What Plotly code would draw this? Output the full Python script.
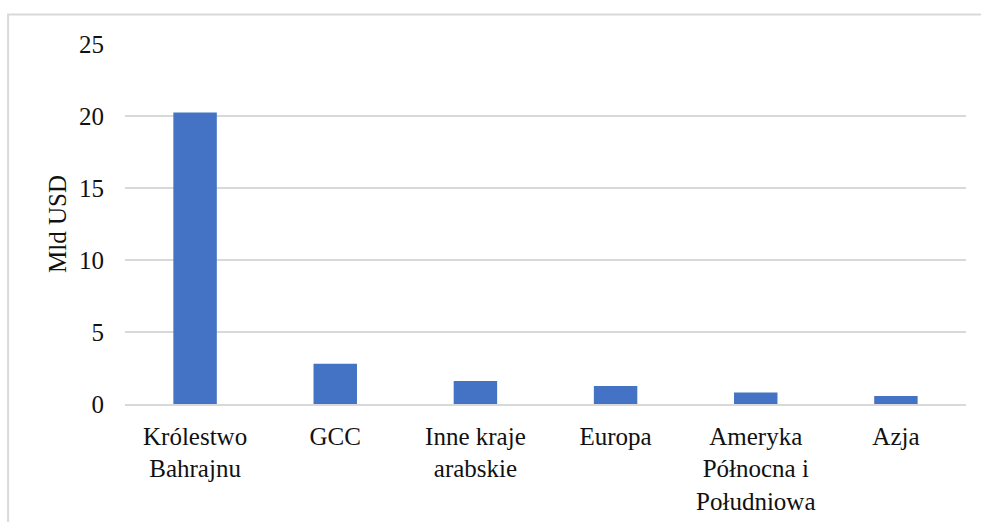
import plotly.graph_objects as go

categories = [
    "Królestwo<br>Bahrajnu",
    "GCC",
    "Inne kraje<br>arabskie",
    "Europa",
    "Ameryka<br>Północna i<br>Południowa",
    "Azja",
]
values = [20.25, 2.8, 1.6, 1.25, 0.8, 0.55]
y_ticks = [0, 5, 10, 15, 20, 25]

FONT = "Liberation Serif"
GRID = "#d9d9d9"
SIZE = 25

fig = go.Figure(
    go.Bar(
        x=categories,
        y=values,
        marker=dict(color="#4472c4", line=dict(width=0)),
        width=0.31,
    )
)

fig.update_layout(
    width=981,
    height=522,
    margin=dict(l=125, r=15, t=44, b=118),
    paper_bgcolor="white",
    plot_bgcolor="white",
    font=dict(family=FONT, size=SIZE, color="#111111"),
    showlegend=False,
    shapes=[
        dict(
            type="rect",
            xref="paper",
            yref="paper",
            x0=-0.139,
            x1=1.05,
            y0=-0.4,
            y1=1.082,
            line=dict(color=GRID, width=2),
            fillcolor="rgba(0,0,0,0)",
            layer="below",
        )
    ],
)

fig.update_xaxes(
    showgrid=False,
    showline=True,
    linecolor=GRID,
    linewidth=1.5,
    ticks="",
    tickfont=dict(family=FONT, size=SIZE),
    ticklabelstandoff=9,
    automargin=False,
)
fig.update_yaxes(
    range=[0, 25],
    tickvals=y_ticks,
    showgrid=True,
    gridcolor=GRID,
    gridwidth=1.5,
    zeroline=False,
    showline=False,
    ticks="",
    tickfont=dict(family=FONT, size=SIZE),
    ticklabelstandoff=20,
    title=dict(text="Mld USD", font=dict(family=FONT, size=SIZE), standoff=5),
    automargin=False,
)

fig.write_html("out.html")
